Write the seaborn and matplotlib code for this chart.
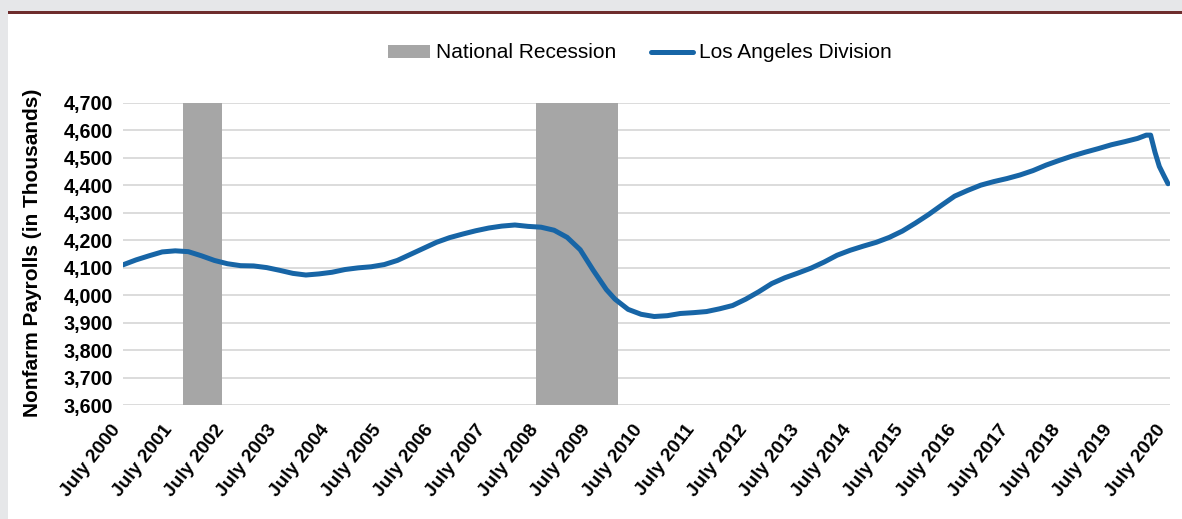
import matplotlib
matplotlib.use("Agg")
import matplotlib.pyplot as plt
import matplotlib.transforms as mtransforms
import seaborn as sns
import pandas as pd
from matplotlib.patches import Patch, Rectangle
from matplotlib.lines import Line2D

# ---- data ----
months = [0, 3, 6, 9, 12, 15, 18, 21, 24, 27, 30, 33, 36, 39, 42, 45, 48, 51, 54, 57,
          60, 63, 66, 69, 72, 75, 78, 81, 84, 87, 90, 93, 96, 99, 102, 105, 108, 111, 113,
          116, 119, 122, 125, 128, 131, 134, 137, 140, 143, 146, 149, 152, 155, 158, 161,
          164, 167, 170, 173, 176, 179, 182, 185, 188, 191, 194, 197, 200, 203, 206, 209,
          212, 215, 218, 221, 224, 227, 230, 233, 235, 236, 237, 238, 239, 240]
payrolls = [4110, 4128, 4143, 4157, 4161, 4158, 4143, 4126, 4114, 4107, 4106, 4100, 4090,
            4079, 4073, 4077, 4083, 4093, 4099, 4103, 4111, 4126, 4148, 4170, 4192, 4209,
            4222, 4234, 4244, 4251, 4255, 4250, 4247, 4236, 4210, 4165, 4090, 4020, 3985,
            3948, 3930, 3922, 3925, 3933, 3936, 3940, 3950, 3962, 3985, 4012, 4042, 4063,
            4080, 4098, 4120, 4145, 4163, 4178, 4192, 4210, 4233, 4262, 4293, 4327, 4360,
            4381, 4400, 4413, 4424, 4437, 4453, 4473, 4490, 4506, 4520, 4533, 4547, 4558,
            4570, 4582, 4582, 4520, 4468, 4436, 4405]
tick_labels = ["July 2000", "July 2001", "July 2002", "July 2003", "July 2004", "July 2005",
               "July 2006", "July 2007", "July 2008", "July 2009", "July 2010", "July 2011",
               "July 2012", "July 2013", "July 2014", "July 2015", "July 2016", "July 2017",
               "July 2018", "July 2019", "July 2020"]
tick_months = [0, 12, 24, 36, 48, 60, 72, 84, 96, 108, 120, 132, 144, 156, 168, 180,
               192, 204, 216, 228, 240]
recession_start = [13.8, 94.9]   # months after July 2000
recession_end = [22.8, 113.6]
y_ticks = [3600, 3700, 3800, 3900, 4000, 4100, 4200, 4300, 4400, 4500, 4600, 4700]

df = pd.DataFrame({"month": months, "payrolls": payrolls})

# ---- style ----
sns.set_theme(style="white")
plt.rcParams["font.family"] = ["Liberation Sans", "DejaVu Sans"]
plt.rcParams["text.color"] = "black"

LINE_C = "#1765a6"
REC_C = "#a6a6a6"
GRID_C = "#d9d9d9"

W, H = 1182, 519
fig = plt.figure(figsize=(W / 100, H / 100), dpi=100, facecolor="white")

# frame decorations
fig.patches.append(Rectangle((0, 0), 8 / W, 1, transform=fig.transFigure,
                             facecolor="#e6e7e9", edgecolor="none", zorder=0))
fig.patches.append(Rectangle((0, 1 - 11 / H), 1, 11 / H, transform=fig.transFigure,
                             facecolor="#e6e7e9", edgecolor="none", zorder=0))
fig.patches.append(Rectangle((8 / W, 1 - 14 / H), 1, 3 / H, transform=fig.transFigure,
                             facecolor="#6e2d2d", edgecolor="none", zorder=1))

left, right, top, bottom = 123, 1170, 102.7, 405
ax = fig.add_axes([left / W, 1 - bottom / H, (right - left) / W, (bottom - top) / H])
ax.set_facecolor("none")

for s, e in zip(recession_start, recession_end):
    ax.axvspan(s, e, color=REC_C, lw=0, zorder=1)

sns.lineplot(data=df, x="month", y="payrolls", ax=ax, color=LINE_C, linewidth=3.6,
             zorder=3, solid_capstyle="round")

ax.set_xlim(0, 240.45)
ax.set_ylim(3600, 4700)
ax.set_yticks(y_ticks)
ax.set_yticklabels([f"{v:,}" for v in y_ticks], fontsize=14.2, fontweight="bold",
                   color="black")
ax.set_xticks(tick_months)
ax.set_xticklabels([])
# rotated category labels, anchored at their right end just below each tick
lab_trans = ax.get_xaxis_transform() + mtransforms.ScaledTranslation(
    -6 / 100, -22 / 100, fig.dpi_scale_trans)
for m, lab in zip(tick_months, tick_labels):
    ax.text(m, 0, lab, transform=lab_trans, rotation=52, rotation_mode="anchor",
            ha="right", va="center", fontsize=13.8, fontweight="bold", color="black",
            clip_on=False)
ax.tick_params(axis="both", length=0)
ax.tick_params(axis="y", pad=7)
ax.yaxis.grid(True, color=GRID_C, linewidth=1.3, zorder=0)
ax.set_axisbelow(True)
for sp in ax.spines.values():
    sp.set_visible(False)
ax.set_xlabel("")
ax.set_ylabel("")
fig.text(33 / W, 1 - 252.5 / H, "Nonfarm Payrolls (in Thousands)", rotation=90,
         ha="center", va="center", fontsize=15, fontweight="bold", color="black")

handles = [Patch(facecolor=REC_C, edgecolor="none", label="National Recession"),
           Line2D([0], [0], color=LINE_C, linewidth=3.6, label="Los Angeles Division")]
fig.legend(handles=handles, loc="center", bbox_to_anchor=(640 / W, 1 - 53 / H), ncol=2,
           frameon=False, fontsize=15, handlelength=2.0, handleheight=0.6,
           columnspacing=1.7, handletextpad=0.3, labelcolor="black")

fig.savefig("out.png", dpi=100, facecolor="white")
